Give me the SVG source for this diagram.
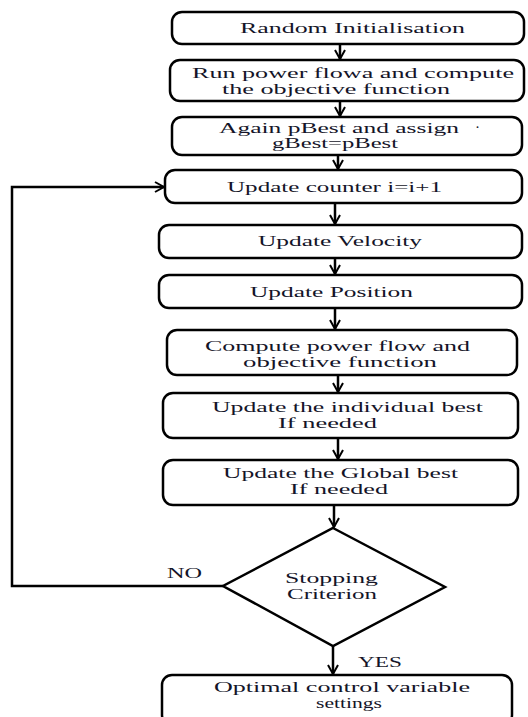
<svg xmlns="http://www.w3.org/2000/svg" width="528" height="717" viewBox="0 0 528 717">
<defs>
<marker id="ah" markerWidth="12" markerHeight="12" refX="10" refY="6" orient="auto" markerUnits="userSpaceOnUse">
<path d="M1,1 L10,6 L1,11" fill="none" stroke="#000" stroke-width="2"/>
</marker>
<style>
.box{fill:#fff;stroke:#000;stroke-width:2.5}
.t{font-family:"Liberation Serif","Times New Roman",serif;font-size:15px;fill:#141428}
.c{fill:none;stroke:#000;stroke-width:2.5}
.a{marker-end:url(#ah)}
</style>
</defs>
<rect width="528" height="717" fill="#fff"/>
<g id="connectors">
<line class="c a" x1="340" y1="44" x2="340" y2="59"/>
<line class="c a" x1="340" y1="101" x2="340" y2="116"/>
<line class="c a" x1="338" y1="155" x2="338" y2="169"/>
<line class="c a" x1="335" y1="203" x2="335" y2="224"/>
<line class="c a" x1="335" y1="258" x2="335" y2="274"/>
<line class="c a" x1="335" y1="308" x2="335" y2="329"/>
<line class="c a" x1="338" y1="375" x2="338" y2="392"/>
<line class="c a" x1="338" y1="438" x2="338" y2="459"/>
<line class="c a" x1="334" y1="505" x2="334" y2="527"/>
<line class="c a" x1="333" y1="646" x2="333" y2="674"/>
<polyline class="c a" points="223,586 12,586 12,187 164,187"/>
<text class="t" x="167" y="578" textLength="35" lengthAdjust="spacingAndGlyphs">NO</text>
<text class="t" x="358" y="667" textLength="44" lengthAdjust="spacingAndGlyphs">YES</text>
</g>
<g id="n1">
<rect class="box" x="172" y="12" width="352" height="32" rx="10"/>
<text class="t" x="240" y="33" textLength="225" lengthAdjust="spacingAndGlyphs">Random Initialisation</text>
</g>
<g id="n2">
<rect class="box" x="170" y="60" width="354" height="41" rx="10"/>
<text class="t" x="192" y="78" textLength="322" lengthAdjust="spacingAndGlyphs">Run power flowa and compute</text>
<text class="t" x="222" y="94" textLength="228" lengthAdjust="spacingAndGlyphs">the objective function</text>
</g>
<g id="n3">
<rect class="box" x="172" y="117" width="350" height="38" rx="10"/>
<text class="t" x="219" y="133" textLength="240" lengthAdjust="spacingAndGlyphs">Again pBest and assign</text>
<text class="t" x="475" y="132">·</text>
<text class="t" x="272" y="148" textLength="126" lengthAdjust="spacingAndGlyphs">gBest=pBest</text>
</g>
<g id="n4">
<rect class="box" x="165" y="170" width="357" height="33" rx="10"/>
<text class="t" x="227" y="192" textLength="215" lengthAdjust="spacingAndGlyphs">Update counter i=i+1</text>
</g>
<g id="n5">
<rect class="box" x="159" y="225" width="363" height="33" rx="10"/>
<text class="t" x="258" y="246" textLength="164" lengthAdjust="spacingAndGlyphs">Update Velocity</text>
</g>
<g id="n6">
<rect class="box" x="159" y="275" width="363" height="33" rx="10"/>
<text class="t" x="250" y="297" textLength="163" lengthAdjust="spacingAndGlyphs">Update Position</text>
</g>
<g id="n7">
<rect class="box" x="167" y="330" width="350" height="45" rx="10"/>
<text class="t" x="205" y="351" textLength="265" lengthAdjust="spacingAndGlyphs">Compute power flow and</text>
<text class="t" x="243" y="367" textLength="194" lengthAdjust="spacingAndGlyphs">objective function</text>
</g>
<g id="n8">
<rect class="box" x="163" y="393" width="355" height="45" rx="10"/>
<text class="t" x="212" y="412" textLength="271" lengthAdjust="spacingAndGlyphs">Update the individual best</text>
<text class="t" x="278" y="428" textLength="99" lengthAdjust="spacingAndGlyphs">If needed</text>
</g>
<g id="n9">
<rect class="box" x="163" y="460" width="355" height="45" rx="10"/>
<text class="t" x="223" y="478" textLength="235" lengthAdjust="spacingAndGlyphs">Update the Global best</text>
<text class="t" x="290" y="494" textLength="98" lengthAdjust="spacingAndGlyphs">If needed</text>
</g>
<g id="n10">
<polygon class="box" points="333,528 445,587 333,646 223,586"/>
<text class="t" x="285" y="583" textLength="93" lengthAdjust="spacingAndGlyphs">Stopping</text>
<text class="t" x="287" y="599" textLength="90" lengthAdjust="spacingAndGlyphs">Criterion</text>
</g>
<g id="n11">
<rect class="box" x="162" y="675" width="350" height="50" rx="10"/>
<text class="t" x="214" y="692" textLength="256" lengthAdjust="spacingAndGlyphs">Optimal control variable</text>
<text class="t" x="316" y="708" textLength="66" lengthAdjust="spacingAndGlyphs">settings</text>
</g>
</svg>
